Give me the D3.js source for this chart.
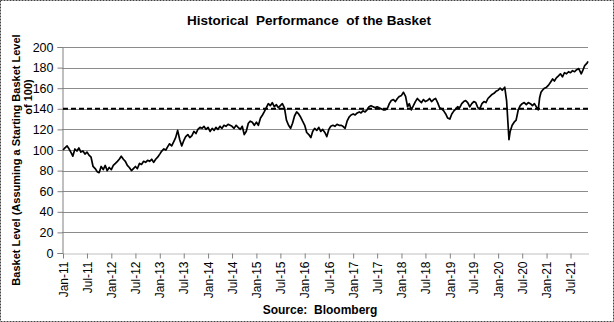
<!DOCTYPE html>
<html><head><meta charset="utf-8">
<script src="https://cdn.jsdelivr.net/npm/d3@7"></script>
<style>
html,body{margin:0;padding:0;background:#fff;}
svg{display:block;font-family:"Liberation Sans",Arial,sans-serif;}
</style></head>
<body>
<svg id="chart" width="614" height="322"></svg>
<script>
const title = "Historical  Performance  of the Basket";
const yTitle1 = "Basket Level (Assuming a Starting Basket Level";
const yTitle2 = "of 100)";
const sourceText = "Source:  Bloomberg";
const barrierLevel = 140;
const yTicks = [0,20,40,60,80,100,120,140,160,180,200];
const xTickLabels = ["Jan-11","Jul-11","Jan-12","Jul-12","Jan-13","Jul-13","Jan-14","Jul-14","Jan-15","Jul-15","Jan-16","Jul-16","Jan-17","Jul-17","Jan-18","Jul-18","Jan-19","Jul-19","Jan-20","Jul-20","Jan-21","Jul-21"];
const xTickDates = ["2011-01-01","2011-07-01","2012-01-01","2012-07-01","2013-01-01","2013-07-01","2014-01-01","2014-07-01","2015-01-01","2015-07-01","2016-01-01","2016-07-01","2017-01-01","2017-07-01","2018-01-01","2018-07-01","2019-01-01","2019-07-01","2020-01-01","2020-07-01","2021-01-01","2021-07-01"];

const dates = [
"2011-01-01","2011-01-16","2011-02-01","2011-02-16","2011-03-01","2011-03-16","2011-04-01","2011-04-16","2011-05-01","2011-05-16","2011-06-01","2011-06-16","2011-07-01","2011-07-16","2011-08-01","2011-08-16","2011-09-01","2011-09-16","2011-10-01","2011-10-16","2011-11-01","2011-11-16","2011-12-01","2011-12-16",
"2012-01-01","2012-01-16","2012-02-01","2012-02-16","2012-03-01","2012-03-16","2012-04-01","2012-04-16","2012-05-01","2012-05-16","2012-06-01","2012-06-16","2012-07-01","2012-07-16","2012-08-01","2012-08-16","2012-09-01","2012-09-16","2012-10-01","2012-10-16","2012-11-01","2012-11-16","2012-12-01","2012-12-16",
"2013-01-01","2013-01-16","2013-02-01","2013-02-16","2013-03-01","2013-03-16","2013-04-01","2013-04-16","2013-05-01","2013-05-16","2013-06-01","2013-06-16","2013-07-01","2013-07-16","2013-08-01","2013-08-16","2013-09-01","2013-09-16","2013-10-01","2013-10-16","2013-11-01","2013-11-16","2013-12-01","2013-12-16",
"2014-01-01","2014-01-16","2014-02-01","2014-02-16","2014-03-01","2014-03-16","2014-04-01","2014-04-16","2014-05-01","2014-05-16","2014-06-01","2014-06-16","2014-07-01","2014-07-16","2014-08-01","2014-08-16","2014-09-01","2014-09-16","2014-10-01","2014-10-16","2014-11-01","2014-11-16","2014-12-01","2014-12-16",
"2015-01-01","2015-01-16","2015-02-01","2015-02-16","2015-03-01","2015-03-16","2015-04-01","2015-04-16","2015-05-01","2015-05-16","2015-06-01","2015-06-16","2015-07-01","2015-07-16","2015-08-01","2015-08-16","2015-09-01","2015-09-16","2015-10-01","2015-10-16","2015-11-01","2015-11-16","2015-12-01","2015-12-16",
"2016-01-01","2016-01-16","2016-02-01","2016-02-16","2016-03-01","2016-03-16","2016-04-01","2016-04-16","2016-05-01","2016-05-16","2016-06-01","2016-06-16","2016-07-01","2016-07-16","2016-08-01","2016-08-16","2016-09-01","2016-09-16","2016-10-01","2016-10-16","2016-11-01","2016-11-16","2016-12-01","2016-12-16",
"2017-01-01","2017-01-16","2017-02-01","2017-02-16","2017-03-01","2017-03-16","2017-04-01","2017-04-16","2017-05-01","2017-05-16","2017-06-01","2017-06-16","2017-07-01","2017-07-16","2017-08-01","2017-08-16","2017-09-01","2017-09-16","2017-10-01","2017-10-16","2017-11-01","2017-11-16","2017-12-01","2017-12-16",
"2018-01-01","2018-01-16","2018-02-01","2018-02-16","2018-03-01","2018-03-16","2018-04-01","2018-04-16","2018-05-01","2018-05-16","2018-06-01","2018-06-16","2018-07-01","2018-07-16","2018-08-01","2018-08-16","2018-09-01","2018-09-16","2018-10-01","2018-10-16","2018-11-01","2018-11-16","2018-12-01","2018-12-16",
"2019-01-01","2019-01-16","2019-02-01","2019-02-16","2019-03-01","2019-03-16","2019-04-01","2019-04-16","2019-05-01","2019-05-16","2019-06-01","2019-06-16","2019-07-01","2019-07-16","2019-08-01","2019-08-16","2019-09-01","2019-09-16","2019-10-01","2019-10-16","2019-11-01","2019-11-16","2019-12-01","2019-12-16",
"2020-01-01","2020-01-16","2020-02-01","2020-02-20","2020-03-05","2020-03-23","2020-04-01","2020-04-16","2020-05-01","2020-05-16","2020-06-01","2020-06-16","2020-07-01","2020-07-16","2020-08-01","2020-08-16","2020-09-01","2020-09-16","2020-10-01","2020-10-30","2020-11-10","2020-11-20","2020-12-01","2020-12-16",
"2021-01-01","2021-01-16","2021-02-01","2021-02-16","2021-03-01","2021-03-16","2021-04-01","2021-04-16","2021-05-01","2021-05-16","2021-06-01","2021-06-16","2021-07-01","2021-07-16","2021-08-01","2021-08-16","2021-09-01","2021-09-20","2021-10-01","2021-10-16","2021-11-01","2021-11-10"
];
const levels = [
100,102,104,101,98,94,101,99,102,98,99,96,98,95,93,84,82,79,78,84,81,85,80,83,
81,85,87,89,91,94,91,89,85,83,80,82,84,82,87,86,89,88,90,89,91,88,91,93,
96,99,101,100,103,106,104,108,112,119,110,104,109,113,115,112,114,118,116,120,122,121,123,120,
122,118,121,119,122,120,123,121,124,123,125,124,123,121,124,122,120,123,115,118,126,128,127,124,
127,124,131,134,137,141,145,143,146,142,144,141,143,145,141,129,124,121,126,133,137,135,132,128,
124,117,115,112,118,121,119,122,118,120,117,113,120,123,124,123,125,124,124,123,121,128,132,134,
135,134,136,137,136,138,137,139,142,143,142,141,142,141,140,139,139,140,145,148,149,147,150,152,
153,156,152,142,145,139,143,147,150,148,146,149,147,148,150,147,149,150,146,141,140,138,135,131,
130,135,138,140,142,141,145,147,148,146,142,145,147,146,141,140,145,147,146,150,152,154,155,157,
158,160,158,161,148,110,118,124,127,129,139,143,145,146,144,146,145,143,145,139,151,156,158,160,
161,163,166,169,167,170,172,174,171,175,174,176,175,177,176,178,179,174,177,182,184,186
];

const parse = d3.timeParse("%Y-%m-%d");
const data = dates.map((d,i)=>({date:parse(d), v:levels[i]}));

const svg = d3.select("#chart");
const W = 614, H = 322;
const m = {left:62, right:588, top:47, bottom:253};

// outer border
svg.append("rect").attr("x",0.5).attr("y",0.5).attr("width",W-1).attr("height",H-1)
  .attr("fill","#fff").attr("stroke","#444").attr("stroke-dasharray","2,1");

const x = d3.scaleTime().domain([data[0].date, data[data.length-1].date]).range([m.left+1, m.right]);
const y = d3.scaleLinear().domain([0,200]).range([m.bottom, m.top]);

// gridlines
svg.append("g").selectAll("line").data(yTicks.filter(t=>t>0)).join("line")
  .attr("x1",m.left).attr("x2",m.right)
  .attr("y1",d=>Math.round(y(d))+0.5).attr("y2",d=>Math.round(y(d))+0.5)
  .attr("stroke","#8c8c8c").attr("stroke-width",1);

// y axis
const yAxis = d3.axisLeft(y).tickValues(yTicks).tickSize(5).tickPadding(4);
const gy = svg.append("g").attr("transform",`translate(${m.left+0.5},0)`).call(yAxis);
gy.select(".domain").attr("stroke","#808080");
gy.selectAll(".tick line").attr("stroke","#808080");
gy.selectAll(".tick text").attr("font-size",12.5).attr("fill","#000")
  .attr("font-family","Liberation Sans, Arial, sans-serif");

// x axis
const xAxis = d3.axisBottom(x).tickValues(xTickDates.map(parse))
  .tickFormat((d,i)=>xTickLabels[i]).tickSize(5).tickSizeOuter(0);
const gx = svg.append("g").attr("transform",`translate(0,${m.bottom+0.5})`).call(xAxis);
gx.select(".domain").attr("stroke","#808080").attr("stroke-dasharray","1,1");
gx.selectAll(".tick line").attr("stroke","#808080");
gx.selectAll(".tick text").attr("font-size",12).attr("fill","#000")
  .attr("font-family","Liberation Sans, Arial, sans-serif")
  .attr("transform","rotate(-90)").attr("text-anchor","end")
  .attr("x",-8).attr("y",0).attr("dy","0.35em");

// barrier
svg.append("line").attr("x1",m.left+1).attr("x2",m.right)
  .attr("y1",y(barrierLevel)).attr("y2",y(barrierLevel))
  .attr("stroke","#000").attr("stroke-width",2).attr("stroke-dasharray","5,3");

// series line
svg.append("path").datum(data)
  .attr("d", d3.line().x(d=>x(d.date)).y(d=>y(d.v)))
  .attr("fill","none").attr("stroke","#000").attr("stroke-width",1.7)
  .attr("stroke-linejoin","round");

// title
svg.append("text").attr("x",309).attr("y",25).attr("text-anchor","middle")
  .attr("font-size",13.5).attr("font-weight","bold").style("white-space","pre").text(title);

// y axis title
svg.append("text").attr("font-size",11).attr("font-weight","bold")
  .attr("text-anchor","middle").attr("transform","translate(20,160) rotate(-90)").text(yTitle1);
svg.append("text").attr("font-size",11).attr("font-weight","bold")
  .attr("text-anchor","middle").attr("transform","translate(32,97) rotate(-90)").text(yTitle2);

// source
svg.append("text").attr("x",320).attr("y",314).attr("text-anchor","middle")
  .attr("font-size",12).attr("font-weight","bold").style("white-space","pre").text(sourceText);
</script>
</body></html>
